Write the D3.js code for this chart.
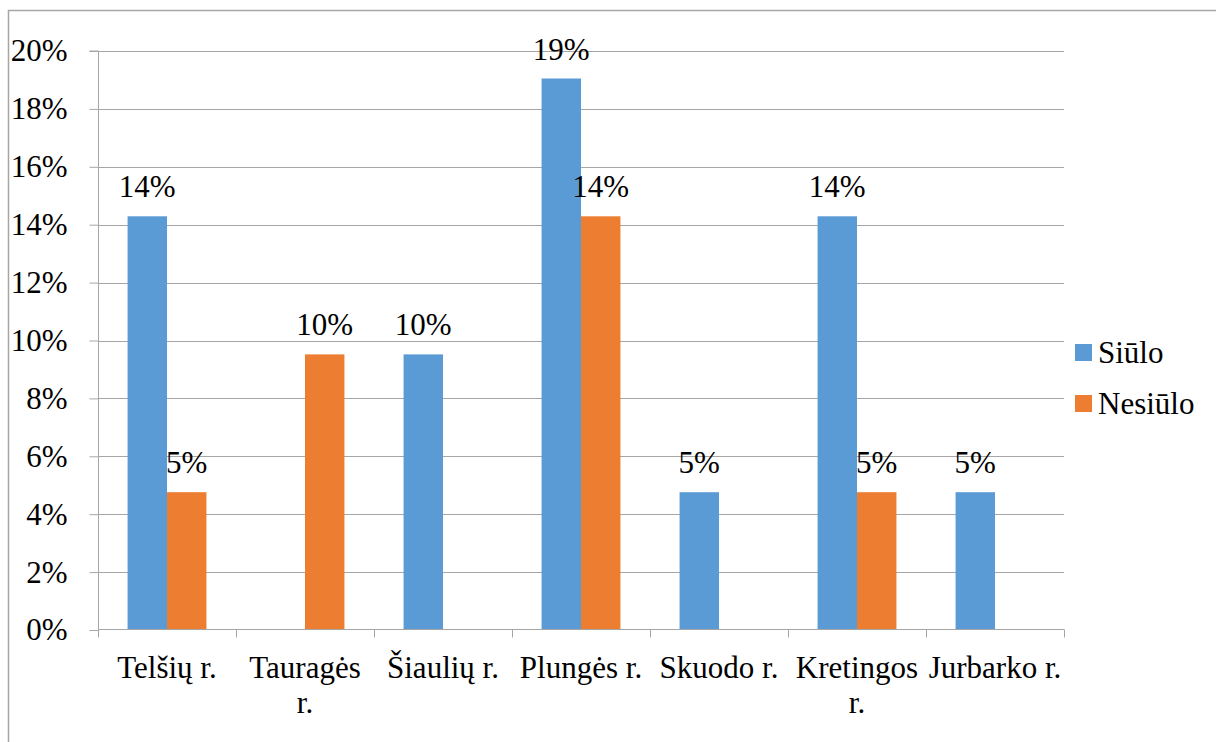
<!DOCTYPE html>
<html><head><meta charset="utf-8">
<script src="https://cdn.jsdelivr.net/npm/d3@7"></script>
</head><body style="margin:0"><svg id="c" width="1216" height="742" style="font-family:'Liberation Serif',serif"></svg>
<script>
const categories = ["Telšių r.", "Tauragės r.", "Šiaulių r.", "Plungės r.", "Skuodo r.", "Kretingos r.", "Jurbarko r."];
const categoryLines = [["Telšių r."], ["Tauragės", "r."], ["Šiaulių r."], ["Plungės r."], ["Skuodo r."], ["Kretingos", "r."], ["Jurbarko r."]];
const seriesNames = ["Siūlo", "Nesiūlo"];
const siulo   = [0.1429, 0, 0.0952, 0.1905, 0.0476, 0.1429, 0.0476];
const nesiulo = [0.0476, 0.0952, 0, 0.1429, 0, 0.0476, 0];
const colors = ["#5b9bd5", "#ed7d31"];
const yTicks = [0, 0.02, 0.04, 0.06, 0.08, 0.10, 0.12, 0.14, 0.16, 0.18, 0.20];

const svg = d3.select("#c");
const fs = "31px";
const ff = "'Liberation Serif', serif";
function styleText(sel) {
  return sel.attr("font-family", ff).style("font-family", ff, "important").style("font-size", fs).style("fill", "#000");
}
svg.append("rect").attr("x", 8.5).attr("y", 10.5).attr("width", 1220).attr("height", 800)
  .attr("fill", "none").attr("stroke", "#a6a6a6").attr("stroke-width", 1.5);

const mLeft = 98, mRight = 1064, mTop = 51, mBottom = 630;
const x0 = d3.scaleBand().domain(categories).range([mLeft, mRight]).paddingInner(0).paddingOuter(0);
const x1 = d3.scaleBand().domain(seriesNames).range([0, x0.bandwidth()]).paddingInner(0).paddingOuter(0.75);
const y = d3.scaleLinear().domain([0, 0.20]).range([mBottom, mTop]);

// gridlines
svg.append("g").selectAll("line").data(yTicks.slice(1)).join("line")
  .attr("x1", mLeft).attr("x2", mRight)
  .attr("y1", d => Math.round(y(d)) + 0.5).attr("y2", d => Math.round(y(d)) + 0.5)
  .attr("stroke", "#a6a6a6").attr("stroke-width", 1);

// bars
const data = categories.map((c, i) => ({c, vals: [siulo[i], nesiulo[i]]}));
const g = svg.append("g");
data.forEach(d => {
  d.vals.forEach((v, k) => {
    if (v <= 0) return;
    const bx = x0(d.c) + x1(seriesNames[k]);
    g.append("rect").attr("x", bx).attr("y", y(v)).attr("width", x1.bandwidth())
      .attr("height", y(0) - y(v)).attr("fill", colors[k]);
    styleText(g.append("text").attr("x", bx + x1.bandwidth() / 2).attr("y", y(v) - 19)
      .attr("text-anchor", "middle")).text(d3.format(".0%")(v));
  });
});

// y axis
const ya = svg.append("g").attr("transform", `translate(${mLeft + 0.5},0)`)
  .call(d3.axisLeft(y).tickValues(yTicks).tickFormat(d3.format(".0%")).tickSize(9).tickPadding(22));
ya.attr("font-family", ff).attr("font-size", null);
ya.select(".domain").attr("stroke", "#a6a6a6").attr("d", `M-9,${y(0.2)}H0V${y(0)}`);
ya.selectAll(".tick line").attr("stroke", "#a6a6a6");
styleText(ya.selectAll(".tick text"));

// x axis
const xa = svg.append("g").attr("transform", `translate(0,${mBottom - 0.5})`);
xa.append("line").attr("x1", mLeft).attr("x2", mRight).attr("stroke", "#a6a6a6");
const bounds = categories.map(c => x0(c)).concat([mRight]);
xa.selectAll("line.t").data(bounds).join("line").attr("class", "t")
  .attr("x1", d => d + 0.5).attr("x2", d => d + 0.5).attr("y1", 0).attr("y2", 8).attr("stroke", "#a6a6a6");
categories.forEach((c, i) => {
  const cx = x0(c) + x0.bandwidth() / 2;
  const t = styleText(xa.append("text").attr("x", cx).attr("y", 48).attr("text-anchor", "middle"));
  categoryLines[i].forEach((line, j) => {
    t.append("tspan").attr("x", cx).attr("dy", j === 0 ? 0 : 35).text(line);
  });
});

// legend
const leg = svg.append("g");
seriesNames.forEach((s, k) => {
  const ly = 344 + k * 51;
  leg.append("rect").attr("x", 1075).attr("y", ly).attr("width", 17).attr("height", 17).attr("fill", colors[k]);
  styleText(leg.append("text").attr("x", 1098).attr("y", ly + 19)).text(s);
});
</script></body></html>
